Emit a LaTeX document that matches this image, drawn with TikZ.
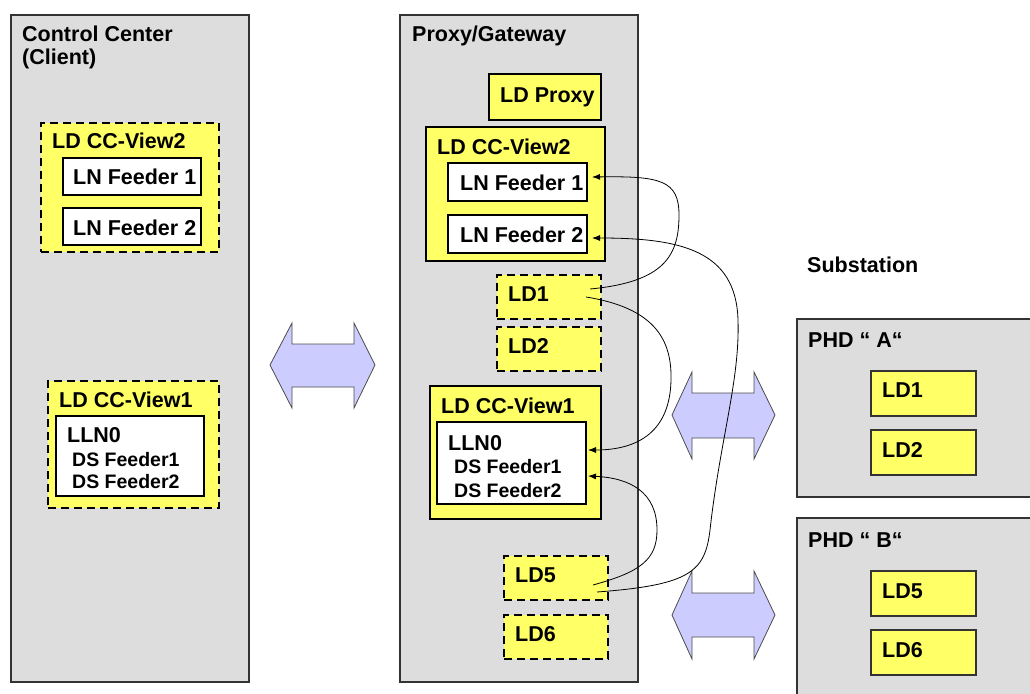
\documentclass[tikz,border=0pt]{standalone}
\usepackage{fontspec}
\setmainfont{Liberation Sans}
\usetikzlibrary{arrows.meta}
\definecolor{boxgray}{HTML}{DDDDDD}
\definecolor{ylw}{HTML}{FFFF66}
\definecolor{lav}{HTML}{CCCCFF}
\begin{document}
\begin{tikzpicture}[x=1pt,y=-1pt,
  gbox/.style={draw=black!80,line width=1.6pt,fill=boxgray,inner sep=0pt,outer sep=0pt},
  ybox/.style={draw=black,line width=1.4pt,fill=ylw,inner sep=0pt,outer sep=0pt},
  dbox/.style={ybox,dash pattern=on 8pt off 5pt},
  rbox/.style={draw=black!80,line width=1.4pt,fill=ylw,inner sep=0pt,outer sep=0pt},
  wbox/.style={draw=black,line width=1.4pt,fill=white,inner sep=0pt,outer sep=0pt},
  lbl/.style={font=\bfseries\fontsize{21.5}{23}\selectfont,anchor=base west,inner sep=0pt},
  slbl/.style={font=\bfseries\fontsize{19.5}{21}\selectfont,anchor=base west,inner sep=0pt},
  dblarr/.style={draw=black!70,line width=0.8pt,fill=lav,line join=miter},
  conn/.style={line width=0.8pt,-{Latex[length=8pt,width=6pt]}}]
\useasboundingbox (0,0) rectangle (1030,693);
\begin{scope}
\clip (0,0) rectangle (1030,693);
% ---------- Control Center ----------
\node[gbox,minimum width=238pt,minimum height=667pt] (cc) at (130,348.5) {};
\node[lbl] (tcc) at (22,42) {Control Center};
\node[lbl] (tcc2) at (22,64) {(Client)};
\node[dbox,minimum width=178pt,minimum height=129pt] (lv2) at (130,187.5) {};
\node[lbl] (tlv2) at (52,148) {LD CC-View2};
\node[wbox,minimum width=138pt,minimum height=37pt] (lf1) at (132,176.5) {};
\node[lbl] (tlf1) at (73,184) {LN Feeder 1};
\node[wbox,minimum width=138pt,minimum height=37pt] (lf2) at (132,226.5) {};
\node[lbl] (tlf2) at (73,235) {LN Feeder 2};
\node[dbox,minimum width=171pt,minimum height=127pt] (lv1) at (133.5,444.5) {};
\node[lbl] (tlv1) at (59,407) {LD CC-View1};
\node[wbox,minimum width=148pt,minimum height=80pt] (lw1) at (130,456) {};
\node[lbl] (tll0) at (67,442) {LLN0};
\node[slbl] (tlds1) at (72,466) {DS Feeder1};
\node[slbl] (tlds2) at (72,488) {DS Feeder2};
% ---------- Proxy/Gateway ----------
\node[gbox,minimum width=238pt,minimum height=667pt] (pg) at (519,348.5) {};
\node[lbl] (tpg) at (412,42) {Proxy/Gateway};
\node[ybox,minimum width=112pt,minimum height=46pt] (prx) at (545,97) {};
\node[lbl] (tprx) at (500,102) {LD Proxy};
\node[ybox,minimum width=179pt,minimum height=134pt] (mv2) at (515.5,194) {};
\node[lbl] (tmv2) at (437,154) {LD CC-View2};
\node[wbox,minimum width=139pt,minimum height=38pt] (mf1) at (517.5,182) {};
\node[lbl] (tmf1) at (460,190) {LN Feeder 1};
\node[wbox,minimum width=139pt,minimum height=38pt] (mf2) at (517.5,234) {};
\node[lbl] (tmf2) at (460,242) {LN Feeder 2};
\node[dbox,minimum width=104pt,minimum height=44pt] (mld1) at (549,297) {};
\node[lbl] (tmld1) at (508,301) {LD1};
\node[dbox,minimum width=104pt,minimum height=44pt] (mld2) at (549,349) {};
\node[lbl] (tmld2) at (508,353) {LD2};
\node[ybox,minimum width=171pt,minimum height=133pt] (mv1) at (515.5,452.5) {};
\node[lbl] (tmv1) at (441,413) {LD CC-View1};
\node[wbox,minimum width=149pt,minimum height=82pt] (mw1) at (511.5,463) {};
\node[lbl] (tml0) at (448,450) {LLN0};
\node[slbl] (tmds1) at (454,473) {DS Feeder1};
\node[slbl] (tmds2) at (454,497) {DS Feeder2};
\node[dbox,minimum width=104pt,minimum height=44pt] (mld5) at (556,578) {};
\node[lbl] (tmld5) at (515,582) {LD5};
\node[dbox,minimum width=104pt,minimum height=44pt] (mld6) at (556,637) {};
\node[lbl] (tmld6) at (515,641) {LD6};
% ---------- Substation ----------
\node[lbl] (tsub) at (807,272) {Substation};
\node[gbox,minimum width=243pt,minimum height=178pt] (pa) at (918.5,408) {};
\node[lbl] (tpa) at (808,347) {PHD “ A“};
\node[rbox,minimum width=105pt,minimum height=45pt] (rld1) at (923.5,393.5) {};
\node[lbl] (trld1) at (882,397) {LD1};
\node[rbox,minimum width=105pt,minimum height=45pt] (rld2) at (923.5,452.5) {};
\node[lbl] (trld2) at (882,457) {LD2};
\node[gbox,minimum width=243pt,minimum height=187pt] (pb) at (918.5,611.5) {};
\node[lbl] (tpb) at (808,547) {PHD “ B“};
\node[rbox,minimum width=105pt,minimum height=45pt] (rld5) at (923.5,593.5) {};
\node[lbl] (trld5) at (882,598) {LD5};
\node[rbox,minimum width=105pt,minimum height=45pt] (rld6) at (923.5,652.5) {};
\node[lbl] (trld6) at (882,657) {LD6};
% ---------- double arrows ----------
\draw[dblarr] (270,365) -- (292,323) -- (292,344) -- (354,344) -- (354,323) -- (375,365)
  -- (354,408) -- (354,387) -- (292,387) -- (292,408) -- cycle;
\draw[dblarr] (672,415) -- (692,372) -- (692,393) -- (754,393) -- (754,372) -- (775,415)
  -- (754,459) -- (754,438) -- (692,438) -- (692,459) -- cycle;
\draw[dblarr] (672,615) -- (692,571) -- (692,593) -- (754,593) -- (754,571) -- (775,615)
  -- (754,659) -- (754,637) -- (692,637) -- (692,659) -- cycle;
% ---------- connectors ----------
\coordinate (s1) at (590,289);
\coordinate (e1) at (592,177);
\coordinate (s2) at (586,297);
\coordinate (e2) at (588,450);
\coordinate (s3) at (597,592);
\coordinate (e3) at (592,238);
\coordinate (s4) at (593,585);
\coordinate (e4) at (588,476);
\draw[conn] (s1) .. controls (665,282) and (679,255) .. (679,215)
  .. controls (679,180) and (660,176) .. (e1);
\draw[conn] (s2) .. controls (655,308) and (672,340) .. (671,380)
  .. controls (670,430) and (640,450) .. (e2);
\draw[conn] (s3) .. controls (690,585) and (705,572) .. (710,530)
  .. controls (720,440) and (740,380) .. (738,320)
  .. controls (736,250) and (680,238) .. (e3);
\draw[conn] (s4) .. controls (640,572) and (657,560) .. (657,530)
  .. controls (657,492) and (630,478) .. (e4);
\end{scope}
\end{tikzpicture}
\end{document}
